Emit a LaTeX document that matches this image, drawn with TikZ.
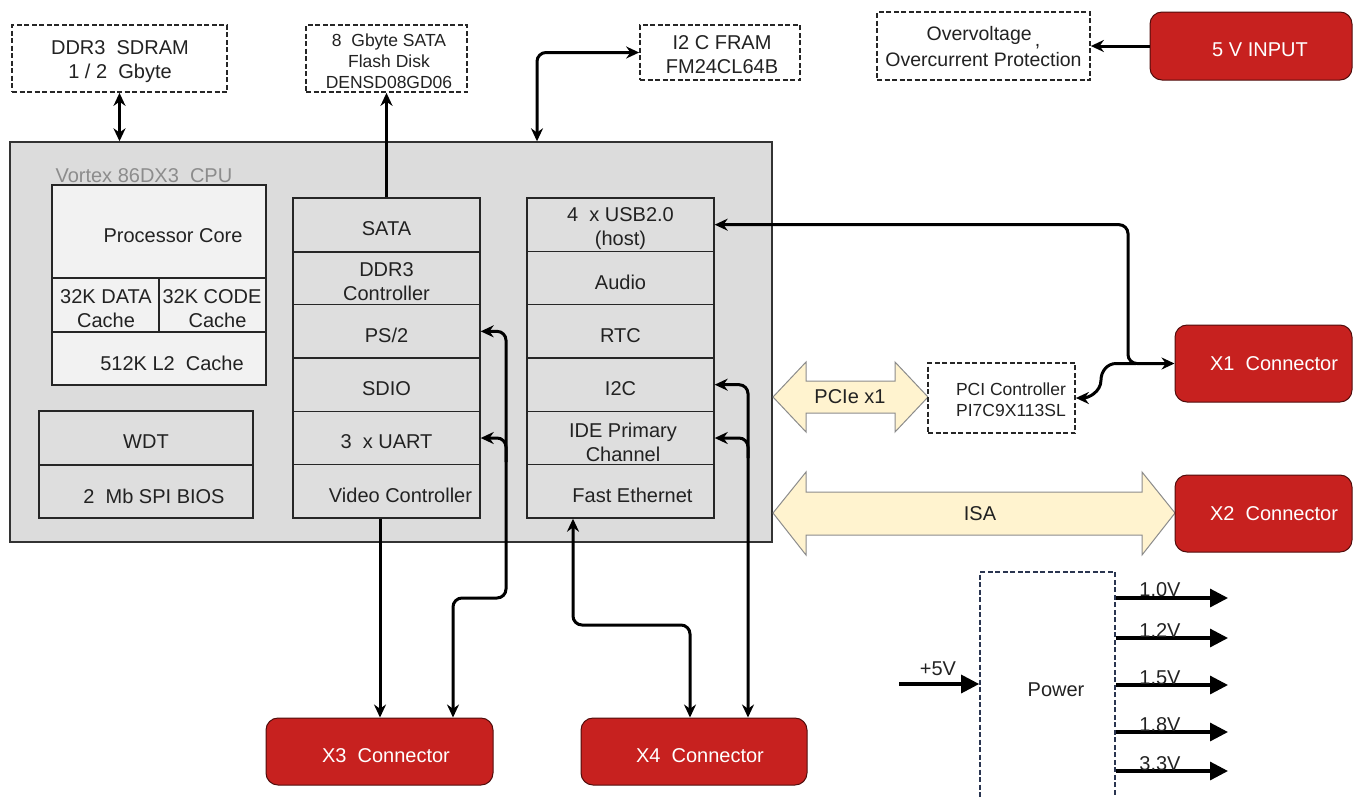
\documentclass[tikz,border=0pt]{standalone}
\usepackage{fontspec}
\setmainfont{Liberation Sans}
\usetikzlibrary{arrows.meta,calc}
\definecolor{cpugray}{HTML}{DCDCDC}
\definecolor{cellgray}{HTML}{DEDEDE}
\definecolor{coregray}{HTML}{F2F2F2}
\definecolor{conred}{HTML}{C7211F}
\definecolor{busfill}{HTML}{FFF3CF}
\definecolor{navy}{HTML}{2A3550}
\definecolor{txtc}{HTML}{222222}
\newcommand\celltext[3][0]{\node[txt,align=center] at ([xshift=#1pt,yshift=-4pt]#2.center) {#3};}
\begin{document}
\begin{tikzpicture}[x=1pt,y=-1pt,
  >={Stealth[length=13pt,width=12pt]},
  txt/.style={font=\fontsize{20}{24}\selectfont, text=txtc},
  small/.style={font=\fontsize{17.5}{21}\selectfont, text=txtc},
  cell/.style={draw=black!85, line width=1.4pt, fill=cellgray, minimum width=187pt, minimum height=53.33pt, inner sep=0pt},
  corecell/.style={draw=black!85, line width=1.4pt, fill=coregray, inner sep=0pt},
  dbox/.style={draw=black!85, dash pattern=on 5pt off 2.5pt, line width=1.7pt, fill=white, inner sep=0pt, align=center},
  redbox/.style={draw=black!60!conred, line width=1pt, fill=conred, rounded corners=12pt, inner sep=0pt, text=white, font=\fontsize{20}{24}\selectfont},
  conn/.style={line width=3pt, rounded corners=9pt},
  pconn/.style={line width=3.2pt, -{Triangle[length=18pt,width=18pt]}},
  bus/.style={draw=black!45, line width=1pt, fill=busfill},
]
\useasboundingbox (0,0) rectangle (1354,796);

% top boxes
\node[dbox, txt, minimum width=215pt, minimum height=67pt] (ddr) at (119.5,58.5) {};
\node[txt, align=center] at (120,62) {DDR3\ \ SDRAM\\1 / 2\ \ Gbyte};
\node[dbox, small, minimum width=161pt, minimum height=67pt] (flash) at (386.5,58.5) {};
\node[small, align=center] at (389,61) {8\ \ Gbyte SATA\\Flash Disk\\DENSD08GD06};
\node[dbox, txt, minimum width=160pt, minimum height=55pt] (fram) at (720,52.5) {};
\node[txt, align=center] at (722,55) {I2 C FRAM\\FM24CL64B};
\node[dbox, minimum width=213pt, minimum height=68pt] (ovp) at (983.5,46) {};
\node[txt, align=center, font=\fontsize{19.5}{26}\selectfont] at (983.5,47) {Overvoltage\,\raisebox{-6pt}{,}\\Overcurrent Protection};
\node[redbox, minimum width=202pt, minimum height=68pt] (vin) at (1251,46) {};
\node[text=white, font=\fontsize{20}{24}\selectfont] at (1260,50) {5 V INPUT};

% CPU
\node[draw=black!80, line width=1.4pt, fill=cpugray, minimum width=762pt, minimum height=400pt, inner sep=0pt] (cpu) at (391,342) {};
\node[anchor=base west, text=black!45, font=\fontsize{20}{24}\selectfont] (cpulbl) at (52,182) {Vortex 86DX3\ \ CPU};

% processor block
\node[corecell, minimum width=214pt, minimum height=93pt] (core) at (159,231.5) {};
\node[txt] at (173,236) {Processor Core};
\node[corecell, minimum width=107pt, minimum height=54pt] (dcache) at (105.5,305) {};
\node[corecell, minimum width=107pt, minimum height=54pt] (ccache) at (212.5,305) {};
\node[txt, align=center] at (106,309) {32K DATA\\Cache};
\node[txt, align=center] at (212,309) {32K CODE\\\ \ Cache};
\node[corecell, minimum width=214pt, minimum height=53pt] (l2) at (159,358.5) {};
\node[txt] at (172,363) {512K L2\ \ Cache};

% WDT / BIOS
\node[cell, minimum width=214pt, minimum height=54pt] (wdt) at (146,438) {};
\celltext{wdt}{WDT}
\node[cell, minimum width=214pt, minimum height=53pt] (bios) at (146,491.5) {};
\node[txt] at (154,496) {2\ \ Mb SPI BIOS};

% middle column
\node[cell] (sata) at (386.5,224.67) {};
\node[cell] (ddrc) at (386.5,278) {};
\node[cell] (ps2) at (386.5,331.33) {};
\node[cell] (sdio) at (386.5,384.67) {};
\node[cell] (uart) at (386.5,438) {};
\node[cell] (video) at (386.5,491.33) {};
\draw[line width=2.4pt, black!85] (sata.south west) -- (sata.south east);
\celltext{sata}{SATA}
\node[txt, align=center] at (386.5,282) {DDR3\\Controller};
\celltext{ps2}{PS/2}
\celltext{sdio}{SDIO}
\celltext{uart}{3\ \ x UART}
\celltext[14]{video}{Video Controller}

% right column
\node[cell] (usb) at (620.5,224.67) {};
\node[cell] (audio) at (620.5,278) {};
\node[cell] (rtc) at (620.5,331.33) {};
\node[cell] (i2c) at (620.5,384.67) {};
\node[cell] (ide) at (620.5,438) {};
\node[cell] (eth) at (620.5,491.33) {};
\node[txt, align=center] at (620.5,229) {4\ \ x USB2.0\\(host)};
\celltext{audio}{Audio}
\celltext{rtc}{RTC}
\celltext{i2c}{I2C}
\node[txt, align=center] at (623,442) {IDE Primary\\Channel};
\celltext[12]{eth}{Fast Ethernet}

% buses
\draw[bus] (773,397) -- (806,362) -- (806,381) -- (895,381) -- (895,362) -- (928,397)
  -- (895,432) -- (895,413) -- (806,413) -- (806,432) -- cycle;
\node[txt] (pcie) at (850,397) {PCIe x1};
\draw[bus] (773,513) -- (806,472) -- (806,492) -- (1142,492) -- (1142,472) -- (1175,513)
  -- (1142,555) -- (1142,535) -- (806,535) -- (806,555) -- cycle;
\node[txt] (isa) at (980,514) {ISA};

\node[dbox, minimum width=147pt, minimum height=70pt] (pci) at (1001.5,398) {};
\node[small, align=center] at (1011,400) {PCI Controller\\PI7C9X113SL};

% connectors (red)
\node[redbox, minimum width=177pt, minimum height=77pt] (x1) at (1263.5,363.5) {};
\node[text=white, font=\fontsize{20}{24}\selectfont] at (1274,364) {X1\ \ Connector};
\node[redbox, minimum width=177pt, minimum height=77pt] (x2) at (1263.5,513.5) {};
\node[text=white, font=\fontsize{20}{24}\selectfont] at (1274,514) {X2\ \ Connector};
\node[redbox, minimum width=227pt, minimum height=67pt] (x3) at (379.5,751.5) {};
\node[text=white, font=\fontsize{20}{24}\selectfont] at (386,756) {X3\ \ Connector};
\node[redbox, minimum width=226pt, minimum height=67pt] (x4) at (694,751.5) {};
\node[text=white, font=\fontsize{20}{24}\selectfont] at (700,756) {X4\ \ Connector};

% power
\node[dbox, draw=navy, minimum width=135pt, minimum height=230pt] (power) at (1047.5,687) {};
\node[txt] at (1056,690) {Power};

% links
\draw[conn,<->] (ddr.south) -- (ddr.south |- cpu.north);
\draw[conn,->] (sata.north) -- (flash.south);
\coordinate (framc) at (537,100);
\draw[conn,<->] (cpu.north -| framc) |- (fram.west);
\draw[conn,->] (vin.west) -- (ovp.east);

\coordinate (usbc) at (1128,300);
\draw[conn,<->] (usb.east) -| (usbc) |- (x1.west);
\coordinate (pcib) at (1136,363.5);
\draw[line width=3pt,->] (pcib) -- (1116,363.5) to[out=180,in=90] (1101,380) to[out=-90,in=0] (pci.east);

\coordinate (x3r) at (506,598);
\draw[conn,<->] ([xshift=73.5pt]x3.north) |- (x3r) |- (ps2.east);
\coordinate (uartb) at (506,462);
\draw[conn,->] (uartb) |- (uart.east);
\draw[conn,->] ([xshift=-6.5pt]video.south) -- ([xshift=-6.5pt]video.south |- x3.north);

\coordinate (ethm) at (631,625);
\draw[conn,<->] ([xshift=-47.5pt]eth.south) |- (ethm) -| ([xshift=-4pt]x4.north);
\draw[conn,<->] ([xshift=54pt]x4.north) |- (i2c.east);
\coordinate (ideb) at (748,458);
\draw[conn,->] (ideb) |- (ide.east);

% power in/out
\coordinate (vin5) at (899,684);
\draw[pconn] (vin5) -- (vin5 -| power.west);
\node[txt, anchor=base] at (938,675) {+5V};
\foreach \n/\y/\b/\v in {a/598/596/1.0V, b/638/637/1.2V, c/685/684/1.5V, d/732/731/1.8V, e/771/770/3.3V}{
  \coordinate (o\n) at (1228,\y);
  \draw[pconn] (o\n -| power.east) -- (o\n);
  \node[txt, anchor=base] at (1160,\b) {\v};
}
\end{tikzpicture}
\end{document}
